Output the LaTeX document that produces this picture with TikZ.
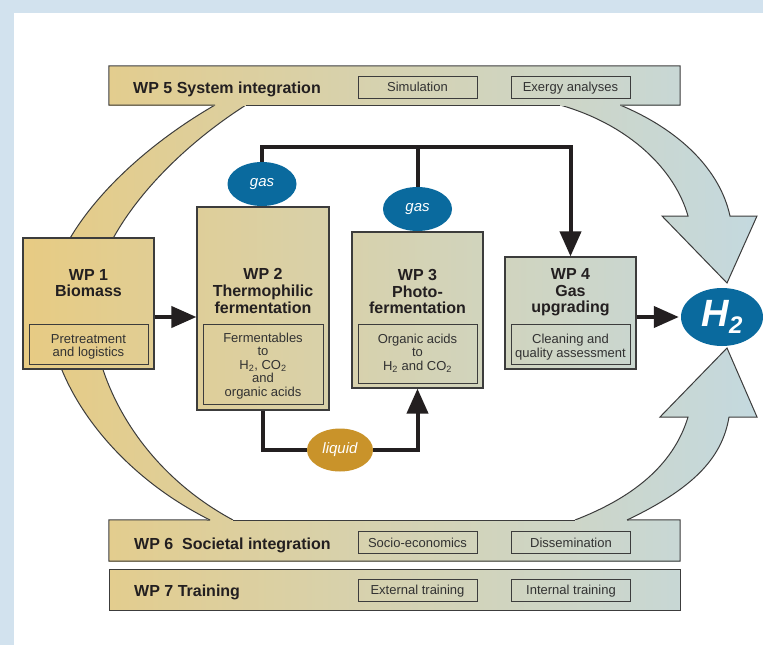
\documentclass[tikz,border=0pt]{standalone}
\usepackage{fontspec}
\setmainfont{Liberation Sans}
\usetikzlibrary{arrows.meta,shapes.geometric}
\definecolor{cgold}{RGB}{231,203,131}
\definecolor{cblue}{RGB}{196,217,223}
\definecolor{bgblue}{RGB}{210,226,238}
\definecolor{gasblue}{RGB}{10,106,158}
\definecolor{liqgold}{RGB}{201,147,42}
\definecolor{ink}{RGB}{35,31,32}
\definecolor{edge}{RGB}{60,60,60}
\definecolor{txt}{RGB}{50,50,50}
\begin{document}
\begin{tikzpicture}[x=1pt,y=-1pt,
  wpbox/.style={draw=edge, line width=1.2pt, rectangle, inner sep=0pt},
  innerbox/.style={draw=edge, line width=1pt, rectangle, inner sep=0pt},
  title/.style={font=\bfseries\fontsize{16}{16.6}\selectfont, text=ink, align=center, inner sep=0pt},
  body/.style={font=\fontsize{13}{13.4}\selectfont, text=txt, align=center, inner sep=0pt},
  bartitle/.style={font=\bfseries\fontsize{16}{17}\selectfont, text=ink, anchor=base west, inner sep=0pt},
  barbox/.style={draw=edge, line width=1pt, minimum width=119pt, minimum height=22pt, inner sep=0pt,
    font=\fontsize{13}{13}\selectfont, text=txt, text height=9.3pt, text depth=0pt},
  blob/.style={ellipse, inner sep=0pt, text=white, font=\itshape\fontsize{15}{15}\selectfont},
  edgeline/.style={draw=edge, line width=1pt},
  pipe/.style={draw=ink, line width=4pt, line join=miter},
  bigtip/.style={-{Triangle[length=25pt,width=21pt]}}
]
% background
\fill[bgblue] (0,0) rectangle (763,645);
\fill[white] (14,13) rectangle (763,645);
\useasboundingbox (0,0) rectangle (763,645);

% left crescent band
\shade[left color=cblue!4!cgold, right color=cblue!31!cgold]
  (215,100) -- (215,105) .. controls (120,160) and (50,240) .. (48,305)
  .. controls (48,380) and (110,470) .. (210,520) -- (210,525) -- (233,525) -- (233,520)
  .. controls (140,470) and (92,380) .. (92,305)
  .. controls (95,240) and (160,160) .. (246,105) -- (246,100) -- cycle;
\draw[edgeline] (215,105) .. controls (120,160) and (50,240) .. (48,305)
  .. controls (48,380) and (110,470) .. (210,520);
\draw[edgeline] (246,105) .. controls (160,160) and (95,240) .. (92,305)
  .. controls (92,380) and (140,470) .. (233,520);

% right top arrow
\shade[left color=cblue!73!cgold, right color=cblue]
  (560,100) -- (560,105) .. controls (630,125) and (675,170) .. (688,216)
  -- (662,216) -- (727,283) -- (757,216) -- (730,216)
  .. controls (720,170) and (680,130) .. (620,105) -- (620,100) -- cycle;
\draw[edgeline, line join=miter] (560,105) .. controls (630,125) and (675,170) .. (688,216)
  -- (662,216) -- (727,283) -- (757,216) -- (730,216)
  .. controls (720,170) and (680,130) .. (620,105);

% right bottom arrow
\shade[left color=cblue!75!cgold, right color=cblue]
  (575,525) -- (575,520) .. controls (640,495) and (675,460) .. (688,417)
  -- (660,417) -- (727,348) -- (757,417) -- (729,417)
  .. controls (722,460) and (690,490) .. (627,520) -- (627,525) -- cycle;
\draw[edgeline, line join=miter] (575,520) .. controls (640,495) and (675,460) .. (688,417)
  -- (660,417) -- (727,348) -- (757,417) -- (729,417)
  .. controls (722,460) and (690,490) .. (627,520);

% WP5 bar
\node[inner sep=0pt, minimum width=571pt, minimum height=39pt,
  left color=cblue!12!cgold, right color=cblue!89!cgold] (wp5) at (394.5,85.5) {};
\draw[edgeline] (215,105) -- (wp5.south west) -- (wp5.north west) -- (wp5.north east)
  -- (wp5.south east) -- (620,105);
\draw[edgeline] (560,105) -- (246,105);
\node[bartitle] (wp5t) at (133,93.3) {WP 5 System integration};
\node[barbox] (sim) at (417.5,87) {Simulation};
\node[barbox] (exe) at (570.5,87) {Exergy analyses};

% WP6 bar
\node[inner sep=0pt, minimum width=571pt, minimum height=41pt,
  left color=cblue!12!cgold, right color=cblue!89!cgold] (wp6) at (394.5,540.5) {};
\draw[edgeline] (210,520) -- (wp6.north west) -- (wp6.south west) -- (wp6.south east)
  -- (wp6.north east) -- (627,520);
\draw[edgeline] (575,520) -- (233,520);
\node[bartitle] (wp6t) at (134,549.3) {WP 6\ \ Societal integration};
\node[barbox] (soc) at (417.5,542.5) {Socio-economics};
\node[barbox] (dis) at (571,542.5) {Dissemination};

% WP7 bar
\node[wpbox, line width=1pt, minimum width=571pt, minimum height=41pt,
  left color=cblue!12!cgold, right color=cblue!89!cgold] (wp7) at (394.5,589.5) {};
\node[bartitle] (wp7t) at (134,596.3) {WP 7 Training};
\node[barbox] (ext) at (417.5,590) {External training};
\node[barbox] (int) at (571,590) {Internal training};

% WP boxes
\node[wpbox, minimum width=131pt, minimum height=131pt,
  left color=cgold, right color=cblue!18!cgold] (wp1) at (88.5,303.5) {};
\node[wpbox, minimum width=132pt, minimum height=203pt,
  left color=cblue!24!cgold, right color=cblue!42!cgold] (wp2) at (263,308.5) {};
\node[wpbox, minimum width=131pt, minimum height=156pt,
  left color=cblue!45!cgold, right color=cblue!63!cgold] (wp3) at (417.5,310) {};
\node[wpbox, minimum width=131pt, minimum height=112pt,
  left color=cblue!65!cgold, right color=cblue!83!cgold] (wp4) at (570.5,313) {};

\node[title] (wp1t) at (88.5,283) {WP 1\\Biomass};
\node[title] (wp2t) at (263,291) {WP 2\\Thermophilic\\fermentation};
\node[title] (wp3t) at (417.5,291.5) {WP 3\\Photo-\\fermentation};
\node[title] (wp4t) at (570.5,292.5) {WP 4\\Gas\\upgrading};

\node[innerbox, minimum width=119pt, minimum height=40pt] (wp1i) at (88.5,344) {};
\node[innerbox, minimum width=120pt, minimum height=80pt] (wp2i) at (263,364) {};
\node[innerbox, minimum width=119pt, minimum height=59pt] (wp3i) at (417.5,353.5) {};
\node[innerbox, minimum width=119pt, minimum height=40pt] (wp4i) at (570.5,344) {};

\node[body] (wp1b) at (88.5,347) {Pretreatment\\and logistics};
\node[body] (wp2b) at (263,366) {Fermentables\\to\\H\textsubscript{2}, CO\textsubscript{2}\\and\\organic acids};
\node[body] (wp3b) at (417.5,353) {Organic acids\\to\\H\textsubscript{2} and CO\textsubscript{2}};
\node[body] (wp4b) at (570.5,347) {Cleaning and\\quality assessment};

% blobs
\node[blob, fill=gasblue, minimum width=69pt, minimum height=44pt] (gas1) at (262,184) {gas};
\node[blob, fill=gasblue, minimum width=69pt, minimum height=44pt] (gas2) at (417.5,209) {gas};
\node[blob, fill=liqgold, minimum width=66pt, minimum height=43pt] (liq) at (340,450) {liquid};
\node[ellipse, inner sep=0pt, fill=gasblue, minimum width=82pt, minimum height=58pt, text=white,
  font=\bfseries\itshape\fontsize{38}{38}\selectfont] (h2)
  at (722,317) {H\raisebox{-7pt}{\fontsize{24}{24}\selectfont 2}\hspace{5pt}};

% connectors
\coordinate (ay) at (0,317);
\coordinate (pipetop) at (0,147);
\draw[pipe, bigtip] (wp1.east |- ay) -- (wp2.west |- ay);
\draw[pipe, bigtip, shorten >=2pt] (wp4.east |- ay) -- (h2.west);
\draw[pipe, bigtip] (gas1.north) -- (gas1.north |- pipetop) -- (wp4.north |- pipetop) -- (wp4.north);
\draw[pipe] (gas2.north) -- (gas2.north |- pipetop);
\draw[pipe] (wp2.south) -- (wp2.south |- liq.west) -- (liq.west);
\draw[pipe, bigtip] (liq.east) -- (wp3.south |- liq.east) -- (wp3.south);
\end{tikzpicture}
\end{document}
